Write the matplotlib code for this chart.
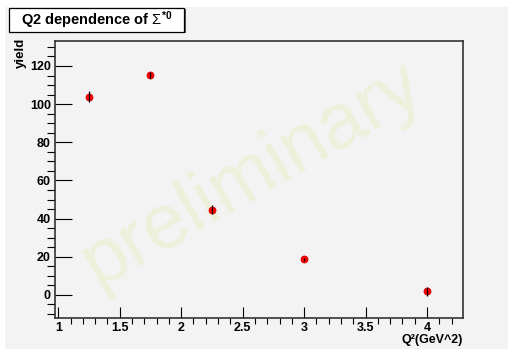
import numpy as np
import matplotlib.pyplot as plt
from matplotlib.patches import Rectangle
from matplotlib.ticker import MultipleLocator

plt.rcParams['font.family'] = ['Liberation Sans', 'DejaVu Sans']
plt.rcParams['mathtext.fontset'] = 'custom'
plt.rcParams['mathtext.rm'] = 'Liberation Sans'
plt.rcParams['mathtext.it'] = 'Liberation Sans:italic'
plt.rcParams['mathtext.bf'] = 'Liberation Sans:bold'

# datos
q2 = [1.25, 1.75, 2.25, 3.0, 4.0]
yield_ = [104.0, 115.3, 44.6, 18.8, 1.9]
yield_err = [2.8, 1.4, 2.3, 0.8, 2.4]

W, H = 508, 349
fig = plt.figure(figsize=(W / 100, H / 100), dpi=100)
fig.patch.set_facecolor('white')
# fondo gris del canvas
fig.patches.append(Rectangle((5 / W, 0), 1, 1 - 7 / H, transform=fig.transFigure,
                             facecolor='#f3f3f3', edgecolor='none', zorder=-10))

ax = fig.add_axes([55 / W, 1 - 318 / H, (463 - 55) / W, (318 - 41) / H])
ax.set_facecolor('#f3f3f3')

# marca de agua
ax.text(252 / W, 1 - 174 / H, 'preliminary', fontsize=56, rotation=30,
        color='#edf1dc', ha='center', va='center', zorder=1,
        transform=fig.transFigure, clip_on=False)

ax.plot(q2, yield_, 'o', color='#ff0000', markersize=5, mec='#d80000', mew=0.6, zorder=3)
ax.errorbar(q2, yield_, yerr=yield_err, fmt='none', ecolor='black', elinewidth=0.9, zorder=4)

ax.set_xlim(0.973, 4.293)
ax.set_ylim(-12.1, 133.1)
ax.xaxis.set_major_locator(MultipleLocator(0.5))
ax.xaxis.set_minor_locator(MultipleLocator(0.1))
ax.yaxis.set_major_locator(MultipleLocator(20))
ax.yaxis.set_minor_locator(MultipleLocator(5))
ax.xaxis.set_major_formatter(plt.FuncFormatter(lambda v, p: f'{v:g}'))

ax.tick_params(axis='both', direction='in', labelsize=9, width=0.8, color='black')
ax.tick_params(axis='y', which='major', length=12, pad=3)
ax.tick_params(axis='y', which='minor', length=6, width=0.8)
ax.tick_params(axis='x', which='major', length=8, pad=3)
ax.tick_params(axis='x', which='minor', length=4, width=0.8)
for lab in ax.get_xticklabels() + ax.get_yticklabels():
    lab.set_fontweight('bold')
for s in ax.spines.values():
    s.set_color('#333333')
    s.set_linewidth(1.2)

fig.text(21 / W, 1 - 38 / H, 'yield', rotation=90, ha='center', va='top',
         fontsize=9.5, fontweight='bold')
fig.text(463 / W, 1 - 340 / H, 'Q²(GeV^2)', ha='right', va='center',
         fontsize=9, fontweight='bold')

# caja del titulo
fig.patches.append(Rectangle((10 / W, 1 - 33 / H), 176 / W, 24 / H, transform=fig.transFigure,
                             facecolor='#555555', edgecolor='none', zorder=5))
fig.patches.append(Rectangle((9 / W, 1 - 32 / H), 175 / W, 24 / H, transform=fig.transFigure,
                             facecolor='white', edgecolor='black', linewidth=0.9, zorder=6))
fig.text(97 / W, 1 - 20 / H, r'Q2 dependence of $\mathrm{\Sigma}^{\mathbf{*0}}$', ha='center', va='center',
         fontsize=10.5, fontweight='bold', zorder=7)

fig.savefig('out.png', dpi=100)
